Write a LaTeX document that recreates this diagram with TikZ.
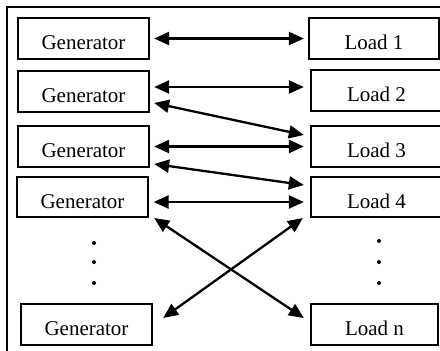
\documentclass[tikz,border=0pt]{standalone}
\usepackage{fontspec}
\setmainfont{Liberation Serif}
\usetikzlibrary{arrows.meta}
\begin{document}
\begin{tikzpicture}[x=1pt,y=-1pt,
  box/.style={draw,line width=2.3pt,minimum width=131pt,minimum height=41pt,inner sep=0pt,
    text height=22pt,text depth=0pt,font=\fontsize{21}{25}\selectfont},
  arr/.style={line width=2.3pt,{Triangle[length=15pt,width=13pt]}-{Triangle[length=15pt,width=13pt]}},
  dot/.style={circle,fill,inner sep=0pt,minimum size=4pt}]
\clip (0,0) rectangle (440,351);
\fill[white] (0,0) rectangle (440,351);
\draw[line width=2.3pt] (7,7) rectangle (470,380);
% generators
\node[box] (G1) at (83.5,38.5) {Generator};
\node[box] (G2) at (83.5,91.5) {Generator};
\node[box] (G3) at (83.5,146.5) {Generator};
\node[box,minimum height=40pt] (G4) at (82.5,197) {Generator};
\node[box] (G5) at (86.5,324.5) {Generator};
% loads
\node[box,minimum width=130pt] (L1) at (374,38.5) {Load 1};
\node[box] (L2) at (376.5,90.5) {Load 2};
\node[box] (L3) at (376.5,146.5) {Load 3};
\node[box,minimum height=40pt] (L4) at (376.5,197) {Load 4};
\node[box,minimum width=127pt] (Ln) at (374.5,324.5) {Load n};
% dots
\node[dot] (dl1) at (94,243) {};
\node[dot] (dl2) at (94,262) {};
\node[dot] (dl3) at (94,283) {};
\node[dot] (dr1) at (379,241) {};
\node[dot] (dr2) at (379,262) {};
\node[dot] (dr3) at (379,283) {};
% connectors
\draw[arr] ([xshift=4pt]G1.east) -- ([xshift=-4pt]L1.west);
\draw[arr] ([xshift=4pt,yshift=4.5pt]G2.east) -- ([xshift=-6pt,yshift=3.5pt]L2.west);
\draw[arr] ([xshift=4pt,yshift=-11.5pt]G2.east) -- ([xshift=-6pt,yshift=11.5pt]L3.west);
\draw[arr] ([xshift=4pt]G3.east) -- ([xshift=-6pt]L3.west);
\draw[arr] ([xshift=4pt,yshift=-17.5pt]G3.east) -- ([xshift=-6pt,yshift=12pt]L4.west);
\draw[arr] ([xshift=4.5pt,yshift=-5pt]G4.east) -- ([xshift=-6pt,yshift=-5pt]L4.west);
\draw[arr] ([xshift=5pt,yshift=-21pt]G4.east) -- ([xshift=-6pt,yshift=6.5pt]Ln.west);
\draw[arr] ([xshift=10pt,yshift=6.5pt]G5.east) -- ([xshift=-7pt,yshift=-21pt]L4.west);
\end{tikzpicture}
\end{document}
